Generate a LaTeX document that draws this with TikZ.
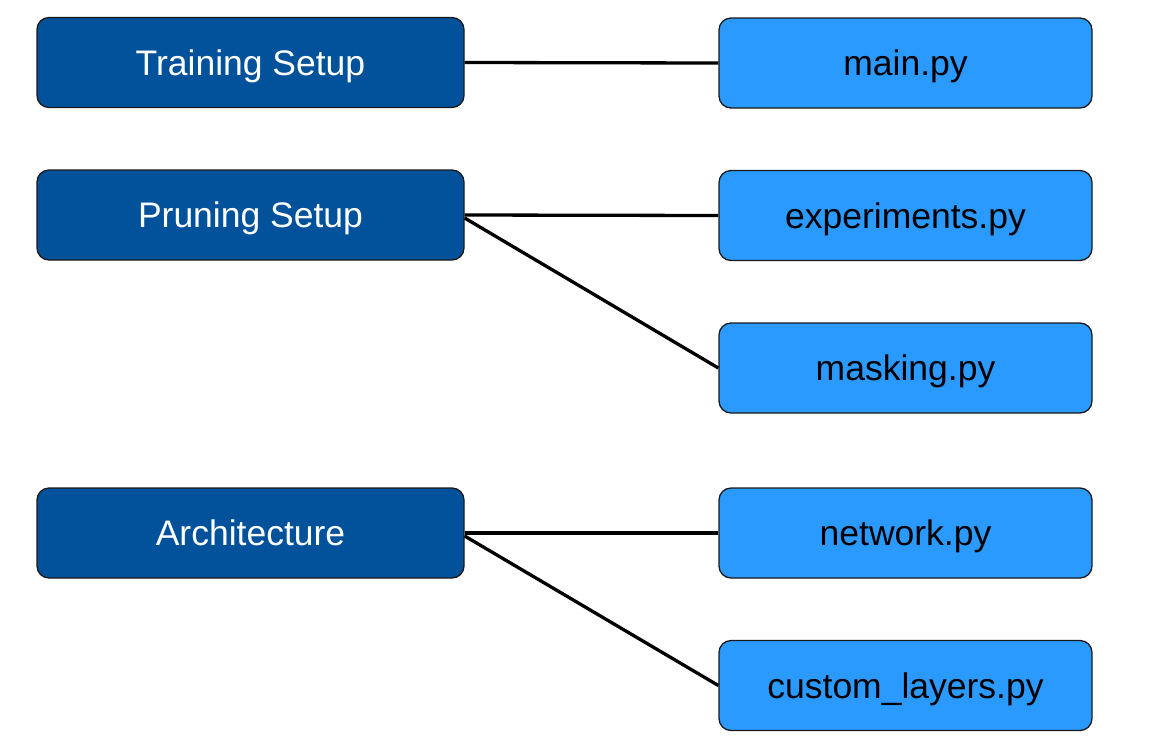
\documentclass[tikz,border=0pt]{standalone}
\usepackage{fontspec}
\setmainfont{Liberation Sans}
\definecolor{darkbox}{HTML}{01529B}
\definecolor{lightbox}{HTML}{2B9AFF}
\definecolor{edgecol}{HTML}{1A1A1A}
\begin{document}
\begin{tikzpicture}[x=1pt,y=-1pt,
  base/.style={draw=edgecol, line width=1.3pt, rounded corners=12pt, minimum height=90pt, inner sep=0pt,
    text height=25.5pt, text depth=0pt,
    font=\fontsize{35.5}{40}\selectfont},
  leftbox/.style={base, fill=darkbox, text=white, minimum width=427pt},
  rightbox/.style={base, fill=lightbox, text=black, minimum width=373pt},
  link/.style={line width=3.3pt, black}]
\useasboundingbox (0,0) rectangle (1150,750);
\node[leftbox] (train) at (250.5,62.5) {Training Setup};
\node[leftbox] (prune) at (250.5,215) {Pruning Setup};
\node[leftbox] (arch) at (250.5,533) {Architecture};
\node[rightbox] (main) at (905.5,63) {main.py};
\node[rightbox] (exp) at (905.5,215.5) {experiments.py};
\node[rightbox] (mask) at (905.5,368) {masking.py};
\node[rightbox] (net) at (905.5,533) {network.py};
\node[rightbox] (cust) at (905.5,685.5) {custom\_layers.py};
\draw[link] (train.east) -- (main.west);
\draw[link] (prune.east) -- (exp.west);
\draw[link] ([yshift=-3pt]prune.east) -- (mask.west);
\draw[link] (arch.east) -- (net.west);
\draw[link] ([yshift=-3pt]arch.east) -- (cust.west);
\end{tikzpicture}
\end{document}
